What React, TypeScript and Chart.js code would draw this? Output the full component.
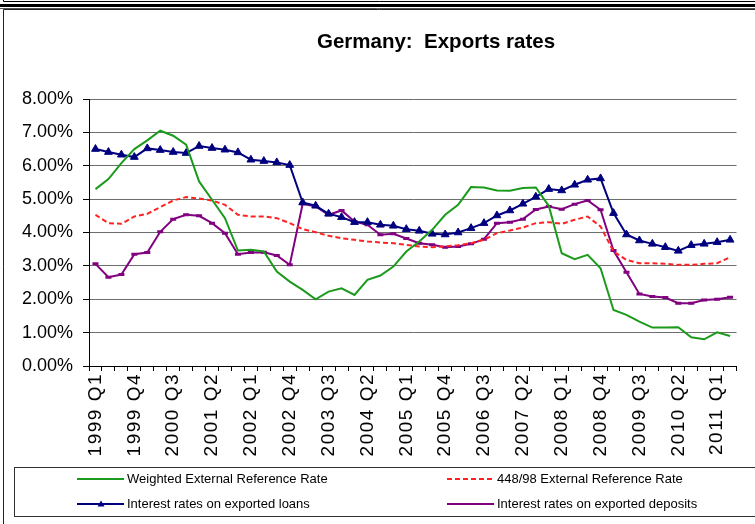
import React, { useEffect, useRef } from "react";
import { Chart, registerables } from "chart.js";

Chart.register(...registerables);

const quarters: string[] = [
  "1999 Q1", "1999 Q2", "1999 Q3", "1999 Q4",
  "2000 Q1", "2000 Q2", "2000 Q3", "2000 Q4",
  "2001 Q1", "2001 Q2", "2001 Q3", "2001 Q4",
  "2002 Q1", "2002 Q2", "2002 Q3", "2002 Q4",
  "2003 Q1", "2003 Q2", "2003 Q3", "2003 Q4",
  "2004 Q1", "2004 Q2", "2004 Q3", "2004 Q4",
  "2005 Q1", "2005 Q2", "2005 Q3", "2005 Q4",
  "2006 Q1", "2006 Q2", "2006 Q3", "2006 Q4",
  "2007 Q1", "2007 Q2", "2007 Q3", "2007 Q4",
  "2008 Q1", "2008 Q2", "2008 Q3", "2008 Q4",
  "2009 Q1", "2009 Q2", "2009 Q3", "2009 Q4",
  "2010 Q1", "2010 Q2", "2010 Q3", "2010 Q4",
  "2011 Q1", "2011 Q2",
];

const weightedERR: number[] = [
  5.30, 5.60, 6.08, 6.50, 6.76, 7.05, 6.90, 6.63, 5.53, 4.98,
  4.43, 3.46, 3.48, 3.43, 2.83, 2.53, 2.28, 2.00, 2.23, 2.33,
  2.13, 2.58, 2.71, 2.98, 3.43, 3.73, 4.08, 4.53, 4.83, 5.36,
  5.35, 5.26, 5.25, 5.33, 5.35, 4.80, 3.38, 3.20, 3.33, 2.93,
  1.68, 1.53, 1.33, 1.15, 1.15, 1.16, 0.86, 0.80, 1.01, 0.90,
];

const err44898: number[] = [
  4.53, 4.28, 4.26, 4.48, 4.56, 4.76, 4.96, 5.06, 5.02, 4.96,
  4.83, 4.53, 4.48, 4.48, 4.43, 4.28, 4.10, 4.01, 3.90, 3.83,
  3.78, 3.73, 3.70, 3.68, 3.63, 3.58, 3.56, 3.58, 3.62, 3.68,
  3.78, 3.98, 4.06, 4.15, 4.28, 4.31, 4.26, 4.38, 4.48, 4.18,
  3.43, 3.18, 3.08, 3.08, 3.06, 3.03, 3.03, 3.06, 3.08, 3.26,
];

const exportedLoans: number[] = [
  6.50, 6.41, 6.33, 6.26, 6.52, 6.47, 6.41, 6.38, 6.59, 6.53,
  6.48, 6.40, 6.18, 6.14, 6.10, 6.02, 4.90, 4.80, 4.56, 4.46,
  4.31, 4.31, 4.23, 4.20, 4.10, 4.05, 3.96, 3.94, 4.00, 4.13,
  4.28, 4.51, 4.66, 4.86, 5.07, 5.30, 5.26, 5.43, 5.58, 5.62,
  4.58, 3.94, 3.76, 3.66, 3.56, 3.45, 3.62, 3.66, 3.71, 3.78,
];

const exportedDeposits: number[] = [
  3.06, 2.66, 2.74, 3.35, 3.40, 4.02, 4.40, 4.53, 4.50, 4.28,
  3.98, 3.35, 3.40, 3.41, 3.31, 3.03, 4.86, 4.78, 4.53, 4.66,
  4.33, 4.23, 3.93, 3.96, 3.82, 3.68, 3.63, 3.56, 3.58, 3.66,
  3.80, 4.28, 4.31, 4.40, 4.69, 4.78, 4.70, 4.85, 4.96, 4.68,
  3.46, 2.81, 2.16, 2.08, 2.05, 1.88, 1.88, 1.98, 2.00, 2.06,
];

const seriesNames: string[] = [
  "Weighted External Reference Rate",
  "448/98 External Reference Rate",
  "Interest rates on exported loans",
  "Interest rates on exported deposits",
];

const titleText = "Germany:  Exports rates";

const FONT = "Arial, 'Liberation Sans', sans-serif";

const framePlugin = {
  id: "framePlugin",
  beforeDraw(chart: any) {
    const ctx = chart.ctx;
    ctx.save();
    ctx.fillStyle = "#ffffff";
    ctx.fillRect(0, 0, chart.width, chart.height);
    ctx.restore();
  },
  afterLayout(chart: any) {
    const xs = chart.scales.x;
    if (xs && !xs.__spaced) {
      const orig = xs.drawLabels;
      xs.drawLabels = function (area: any) {
        const c = this.ctx;
        c.save();
        try {
          (c as any).letterSpacing = "1.5px";
        } catch (e) {}
        orig.call(this, area);
        c.restore();
      };
      xs.__spaced = true;
    }
  },
  afterDraw(chart: any) {
    const ctx = chart.ctx;
    const W = chart.width;
    const H = chart.height;
    ctx.save();
    ctx.strokeStyle = "#000";
    ctx.lineWidth = 1;
    ctx.beginPath();
    ctx.moveTo(3.5, 0);
    ctx.lineTo(3.5, 1.5);
    ctx.moveTo(3.5, 1.5);
    ctx.lineTo(W, 1.5);
    ctx.stroke();
    ctx.fillStyle = "#000";
    ctx.fillRect(0, 4, W, 3);
    ctx.strokeStyle = "#555";
    ctx.beginPath();
    ctx.moveTo(0, 8.5);
    ctx.lineTo(W, 8.5);
    ctx.stroke();
    ctx.strokeStyle = "#222";
    ctx.beginPath();
    ctx.moveTo(3.5, 9.5);
    ctx.lineTo(W + 2, 9.5);
    ctx.moveTo(3.5, 9.5);
    ctx.lineTo(3.5, H);
    ctx.stroke();

    ctx.fillStyle = "#000";
    ctx.font = "bold 20.5px " + FONT;
    ctx.textAlign = "center";
    ctx.textBaseline = "middle";
    ctx.fillText(titleText, 436, 42);

    ctx.strokeStyle = "#333";
    ctx.lineWidth = 1;
    ctx.strokeRect(14.5, 467.5, W + 10, 49);

    const items = chart.data.datasets;
    const pos = [
      { x: 77, y: 479 },
      { x: 447, y: 479 },
      { x: 77, y: 504 },
      { x: 447, y: 504 },
    ];
    items.forEach((ds: any, i: number) => {
      const p = pos[i];
      ctx.save();
      ctx.strokeStyle = ds.borderColor;
      ctx.lineWidth = 2;
      ctx.setLineDash(ds.borderDash || []);
      ctx.beginPath();
      ctx.moveTo(p.x, p.y);
      ctx.lineTo(p.x + 47, p.y);
      ctx.stroke();
      ctx.setLineDash([]);
      if (ds.pointStyle === "triangle") {
        const cx = p.x + 24;
        ctx.fillStyle = ds.borderColor;
        ctx.beginPath();
        ctx.moveTo(cx, p.y - 3.5);
        ctx.lineTo(cx + 3.5, p.y + 2.5);
        ctx.lineTo(cx - 3.5, p.y + 2.5);
        ctx.closePath();
        ctx.fill();
      }
      ctx.restore();
      ctx.fillStyle = "#000";
      ctx.font = "13px " + FONT;
      ctx.textAlign = "left";
      ctx.textBaseline = "middle";
      ctx.fillText(ds.label, p.x + 50, p.y);
    });
    ctx.restore();
  },
};

export default function App() {
  const canvasRef = useRef<HTMLCanvasElement | null>(null);

  useEffect(() => {
    document.body.style.margin = "0";
    const canvas = canvasRef.current;
    if (!canvas) return;
    const chart = new Chart(canvas, {
      type: "line",
      data: {
        labels: quarters,
        datasets: [
          {
            label: seriesNames[0],
            data: weightedERR,
            borderColor: "#1c9a1c",
            backgroundColor: "#1c9a1c",
            borderWidth: 2,
            pointRadius: 0,
            tension: 0,
          },
          {
            label: seriesNames[1],
            data: err44898,
            borderColor: "#ff2222",
            backgroundColor: "#ff2222",
            borderWidth: 2,
            borderDash: [5, 3],
            pointRadius: 0,
            tension: 0,
          },
          {
            label: seriesNames[2],
            data: exportedLoans,
            borderColor: "#00007f",
            backgroundColor: "#00007f",
            borderWidth: 2,
            pointStyle: "triangle",
            pointRadius: 4.5,
            pointBorderWidth: 1,
            pointBackgroundColor: "#00007f",
            pointBorderColor: "#00007f",
            tension: 0,
          },
          {
            label: seriesNames[3],
            data: exportedDeposits,
            borderColor: "#800080",
            backgroundColor: "#800080",
            borderWidth: 2,
            pointStyle: "line",
            pointRadius: 3,
            pointBorderWidth: 3,
            pointBorderColor: "#800080",
            tension: 0,
          },
        ],
      },
      options: {
        responsive: false,
        animation: false,
        devicePixelRatio: 1,
        layout: { padding: { left: 0, right: 13, top: 99, bottom: 58 } },
        plugins: {
          legend: { display: false },
          title: { display: false },
          tooltip: { enabled: false },
        },
        scales: {
          x: {
            type: "category",
            offset: true,
            afterFit: (scale: any) => {
              scale.height = 100;
            },
            grid: {
              offset: true,
              drawOnChartArea: false,
              drawTicks: true,
              tickLength: 5,
              color: "#000",
            },
            border: { color: "#000", width: 1 },
            ticks: {
              autoSkip: false,
              maxRotation: 90,
              minRotation: 90,
              padding: 2,
              color: "#000",
              font: { family: FONT, size: 19 },
              callback: (_v: any, i: number) => (i % 3 === 0 ? quarters[i] : ""),
            },
          },
          y: {
            min: 0,
            max: 8,
            afterFit: (scale: any) => {
              scale.width = 89;
            },
            grid: {
              color: "#6e6e6e",
              tickColor: "#000",
              tickLength: 6,
              drawTicks: true,
            },
            border: { color: "#000", width: 1 },
            ticks: {
              stepSize: 1,
              padding: 10,
              color: "#000",
              font: { family: FONT, size: 18 },
              callback: (v: any) => Number(v).toFixed(2) + "%",
            },
          },
        },
      },
      plugins: [framePlugin],
    } as any);
    return () => chart.destroy();
  }, []);

  return (
    <div style={{ position: "absolute", left: 0, top: 0, width: 755, height: 524 }}>
      <canvas ref={canvasRef} width={755} height={524} style={{ display: "block", width: 755, height: 524 }} />
    </div>
  );
}
